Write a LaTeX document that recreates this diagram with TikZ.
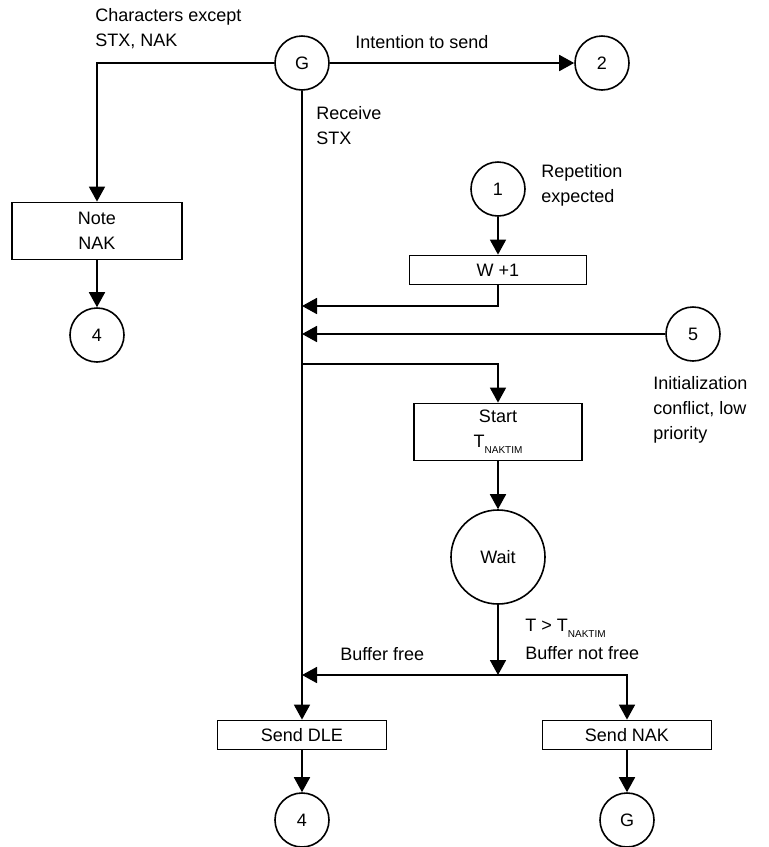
\documentclass[tikz,border=0pt]{standalone}
\usepackage{fontspec}
\setmainfont{Liberation Sans}
\usetikzlibrary{positioning,arrows.meta,calc}
\tikzset{
  box/.style={draw, line width=0.9pt, align=center, inner sep=0pt, minimum width=85pt, minimum height=14.5pt, font=\fontsize{9}{12.5}\selectfont},
  tallbox/.style={box, minimum height=28.5pt},
  conn/.style={draw, circle, line width=0.8pt, inner sep=0pt, minimum size=27pt, font=\fontsize{9}{11}\selectfont},
  arrow/.style={-{Triangle[length=7.5pt,width=8pt]}, line width=0.9pt},
  lbl/.style={anchor=north west, align=left, inner sep=0pt, font=\fontsize{9}{12.5}\selectfont}
}
\newcommand{\tnaktim}{T\raisebox{-3pt}{\fontsize{5}{5}\selectfont NAKTIM}}

\begin{document}
\begin{tikzpicture}[x=0.5pt, y=-0.5pt]
    \useasboundingbox (0,0) rectangle (768,847);
    % connectors and boxes
    \node[conn] (g) at (302,63) {G};
    \node[conn] (c2) at (602,63) {2};
    \node[tallbox] (note) at (97,231) {Note\\NAK};
    \node[conn] (c4a) at (97,335) {4};
    \node[conn] (c1) at (498,189) {1};
    \node[box, minimum width=88.5pt] (w1) at (498,270) {W +1};
    \node[conn] (c5) at (693,334) {5};
    \node[tallbox, minimum width=84pt] (start) at (498,432) {Start\\\tnaktim};
    \node[conn, minimum size=47pt] (wait) at (498,557) {Wait};
    \node[box, minimum width=84.5pt] (dle) at (302,735) {Send DLE};
    \node[box, minimum width=84.5pt] (nak) at (627,735) {Send NAK};
    \node[conn] (c4b) at (302,820) {4};
    \node[conn] (cg) at (627,820) {G};
    % junctions on the main line
    \coordinate (jw) at (302,306);
    \coordinate (j5) at (302,334);
    \coordinate (jb) at (302,364);
    \coordinate (jt) at (498,675);
    \coordinate (jd) at (302,675);
    % labels
    \node[lbl] (lchars) at (95,8) {Characters except\\STX, NAK};
    \node[lbl] (lsend) at (355,35) {Intention to send};
    \node[lbl] (lrecv) at (316,106) {Receive\\STX};
    \node[lbl] (lrep) at (541,164) {Repetition\\expected};
    \node[lbl] (linit) at (653,376) {Initialization\\conflict, low\\priority};
    \node[lbl] (ltime) at (525,619) {T > \tnaktim\\[1.5pt]Buffer not free};
    \node[lbl] (lfree) at (340,647) {Buffer free};
    % lines
    \draw[arrow] (g) -- (c2);
    \draw[arrow] (g.west) -| (note);
    \draw[arrow] (note) -- (c4a);
    \draw[arrow] (g) -- (dle);
    \draw[arrow] (c1) -- (w1);
    \draw[arrow] (w1.south) |- (jw);
    \draw[arrow] (c5) -- (j5);
    \draw[arrow] (jb) -| (start);
    \draw[arrow] (start) -- (wait);
    \draw[arrow] (wait) -- (jt);
    \draw[arrow] (jt) -- (jd);
    \draw[arrow] (jt) -| (nak);
    \draw[arrow] (dle) -- (c4b);
    \draw[arrow] (nak) -- (cg);
  \end{tikzpicture}
\end{document}
